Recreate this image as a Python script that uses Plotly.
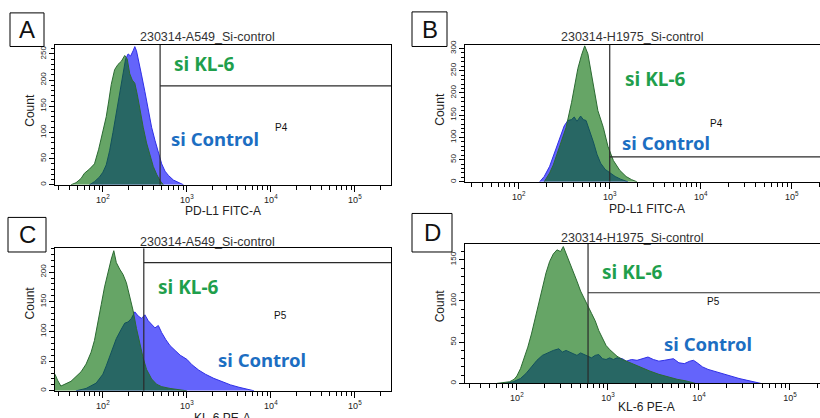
import plotly.graph_objects as go

W, H = 820, 418

# ---------------- data (x as log10 fluorescence intensity, y as counts) ----------------
# Panel A: PD-L1 FITC-A, A549
a_kl6_log = [1.62, 1.68, 1.74, 1.78, 1.84, 1.90, 1.95, 2.00, 2.04, 2.07, 2.10, 2.14, 2.18, 2.22, 2.26,
             2.29, 2.32, 2.35, 2.38, 2.41, 2.44, 2.48, 2.52, 2.56, 2.60, 2.64, 2.68, 2.72]
a_kl6_cnt = [0, 4, 12, 22, 30, 40, 68, 103, 130, 160, 192, 220, 230, 236, 247,
             240, 212, 200, 194, 172, 142, 110, 80, 55, 35, 20, 8, 0]
a_ctl_log = [1.84, 1.90, 1.96, 2.00, 2.04, 2.08, 2.12, 2.16, 2.20, 2.24, 2.27, 2.30, 2.33, 2.36, 2.38,
             2.40, 2.43, 2.46, 2.50, 2.54, 2.58, 2.62, 2.66, 2.70, 2.74, 2.78, 2.84, 2.90, 2.96]
a_ctl_cnt = [0, 6, 15, 24, 38, 65, 100, 138, 178, 212, 240, 250, 246, 256, 264,
             256, 235, 210, 178, 145, 110, 85, 60, 40, 26, 18, 9, 4, 0]

# Panel B: PD-L1 FITC-A, H1975
b_kl6_log = [2.28, 2.34, 2.38, 2.45, 2.52, 2.58, 2.62, 2.65, 2.69, 2.725, 2.76, 2.80, 2.84, 2.87,
             2.93, 2.98, 3.04, 3.11, 3.18, 3.24, 3.30]
b_kl6_cnt = [0, 20, 38, 78, 122, 178, 220, 255, 285, 306, 288, 242, 196, 160,
             122, 80, 48, 26, 12, 5, 0]
b_ctl_log = [2.23, 2.28, 2.34, 2.40, 2.45, 2.50, 2.54, 2.58, 2.61, 2.64, 2.68, 2.71, 2.74, 2.78,
             2.82, 2.86, 2.90, 2.95, 3.00, 3.06, 3.12, 3.20]
b_ctl_cnt = [0, 12, 35, 70, 100, 126, 138, 140, 146, 136, 148, 140, 138, 115,
             90, 62, 42, 28, 20, 12, 6, 0]

# Panel C: KL-6 PE-A, A549
c_kl6_log = [1.43, 1.46, 1.50, 1.56, 1.62, 1.68, 1.74, 1.80, 1.86, 1.90, 1.94, 1.98, 2.02, 2.06, 2.10,
             2.13, 2.16, 2.20, 2.24, 2.28, 2.32, 2.36, 2.40, 2.44, 2.48, 2.52, 2.58, 2.64, 2.70,
             2.80, 2.90, 3.00]
c_kl6_cnt = [28, 18, 8, 12, 16, 24, 32, 45, 65, 85, 112, 145, 175, 200, 222,
             236, 216, 205, 196, 182, 160, 135, 105, 78, 55, 36, 20, 11, 7,
             4, 2, 0]
c_ctl_log = [1.68, 1.80, 1.92, 2.00, 2.04, 2.10, 2.16, 2.22, 2.26, 2.30, 2.34, 2.38, 2.42, 2.46, 2.50,
             2.54, 2.58, 2.62, 2.66, 2.70, 2.75, 2.80, 2.86, 2.92, 3.00, 3.06, 3.14, 3.22, 3.32,
             3.42, 3.52, 3.62, 3.72, 3.80]
c_ctl_cnt = [0, 4, 13, 28, 42, 65, 88, 104, 114, 116, 122, 133, 126, 122, 128,
             118, 112, 106, 110, 98, 86, 76, 68, 60, 53, 44, 35, 28, 21,
             15, 10, 6, 3, 0]

# Panel D: KL-6 PE-A, H1975
d_kl6_log = [1.78, 1.86, 1.92, 1.97, 2.00, 2.04, 2.08, 2.12, 2.16, 2.20, 2.24, 2.28, 2.32, 2.36, 2.40,
             2.44, 2.48, 2.51, 2.54, 2.58, 2.62, 2.66, 2.70, 2.74, 2.78, 2.82, 2.86, 2.90, 2.94,
             2.98, 3.02, 3.06, 3.10, 3.16, 3.22, 3.30, 3.38, 3.46, 3.56, 3.66, 3.76, 3.86, 3.96]
d_kl6_cnt = [0, 1, 2, 5, 9, 18, 30, 44, 60, 78, 98, 116, 134, 148, 157,
             162, 160, 166, 158, 146, 136, 124, 112, 102, 94, 85, 76, 64, 54,
             46, 41, 37, 33, 29, 26, 22, 19, 15, 11, 8, 5, 3, 0]
d_ctl_log = [1.86, 1.96, 2.04, 2.10, 2.16, 2.22, 2.28, 2.34, 2.40, 2.46, 2.50, 2.54, 2.58, 2.62, 2.66,
             2.70, 2.74, 2.78, 2.82, 2.86, 2.90, 2.94, 2.98, 3.02, 3.06, 3.10, 3.16, 3.20, 3.26,
             3.32, 3.38, 3.44, 3.50, 3.56, 3.62, 3.68, 3.72, 3.78, 3.84, 3.90, 3.94, 3.98, 4.04,
             4.10, 4.16, 4.22, 4.28, 4.36, 4.44, 4.52, 4.60, 4.68]
d_ctl_cnt = [0, 2, 6, 12, 20, 28, 34, 37, 40, 42, 38, 40, 38, 36, 34,
             37, 35, 33, 31, 34, 35, 30, 29, 31, 29, 31, 30, 27, 29,
             28, 30, 32, 29, 27, 28, 29, 30, 25, 24, 27, 28, 25, 20,
             17, 15, 13, 11, 8, 6, 4, 2, 0]

# gates (P4 / P5): vertical position (intensity) and horizontal position (count)
gate_x = [480, 1000, 307, 605]
gate_y = [189, 56, 216, 110]
gate_names = ["P4", "P4", "P5", "P5"]

titles = ["230314-A549_Si-control", "230314-H1975_Si-control",
          "230314-A549_Si-control", "230314-H1975_Si-control"]
x_titles = ["PD-L1 FITC-A", "PD-L1 FITC-A", "KL-6 PE-A", "KL-6 PE-A"]
panel_letters = ["A", "B", "C", "D"]
y_tops = [268, 309, 240, 169]
y_major = [[0, 50, 100, 150, 200, 250], [0, 50, 100, 150, 200, 250, 300],
           [0, 50, 100, 150, 200], [0, 50, 100, 150]]
x_major = [100, 1000, 10000, 100000]
x_major_text = ["10<sup>2</sup>", "10<sup>3</sup>", "10<sup>4</sup>", "10<sup>5</sup>"]
x_minor = [m * 10 ** e for e in range(1, 6) for m in range(2, 10)]

series = [
    (a_kl6_log, a_kl6_cnt, a_ctl_log, a_ctl_cnt),
    (b_kl6_log, b_kl6_cnt, b_ctl_log, b_ctl_cnt),
    (c_kl6_log, c_kl6_cnt, c_ctl_log, c_ctl_cnt),
    (d_kl6_log, d_kl6_cnt, d_ctl_log, d_ctl_cnt),
]

# ---------------- layout geometry (pixels) ----------------
px_x = [(55, 391), (465, 820), (55, 391), (465, 820)]
px_y = [(41, 183), (41, 180), (247.3, 391.5), (243, 384)]
x_ranges = [[1.43, 5.43], [1.41, 5.31], [1.43, 5.43], [1.43, 5.33]]

GREEN_FILL = "rgba(0,105,0,0.6)"
GREEN_LINE = "#2b6a32"
BLUE_FILL = "#6464fb"
BLUE_LINE = "#2f2fe6"
GREEN_TXT = "#1f9f4c"
BLUE_TXT = "#1c6ec2"
FONT = "Liberation Sans, Arial, sans-serif"
LABEL_FONT = "Noto Sans, sans-serif"


def px(x):
    return x / W


def py(y):
    return 1 - y / H


fig = go.Figure()
layout = dict(width=W, height=H, margin=dict(l=0, r=0, t=0, b=0),
              paper_bgcolor="white", plot_bgcolor="white", showlegend=False)

annotations = []
shapes = []

for i in range(4):
    sfx = "" if i == 0 else str(i + 1)
    xa, ya = "x" + sfx, "y" + sfx
    kl_log, kl_cnt, ct_log, ct_cnt = series[i]

    fig.add_trace(go.Scatter(x=[10 ** v for v in ct_log], y=ct_cnt, xaxis=xa, yaxis=ya,
                             mode="lines", fill="tozeroy", fillcolor=BLUE_FILL,
                             line=dict(color=BLUE_LINE, width=1), hoverinfo="skip"))
    fig.add_trace(go.Scatter(x=[10 ** v for v in kl_log], y=kl_cnt, xaxis=xa, yaxis=ya,
                             mode="lines", fill="tozeroy", fillcolor=GREEN_FILL,
                             line=dict(color=GREEN_LINE, width=1), hoverinfo="skip"))
    # gate lines
    fig.add_trace(go.Scatter(x=[gate_x[i], gate_x[i]], y=[0, y_tops[i]], xaxis=xa, yaxis=ya,
                             mode="lines", line=dict(color="#2a2a2a", width=1.2), hoverinfo="skip"))
    fig.add_trace(go.Scatter(x=[gate_x[i], 10 ** 7], y=[gate_y[i], gate_y[i]], xaxis=xa, yaxis=ya,
                             mode="lines", line=dict(color="#2a2a2a", width=1.2), hoverinfo="skip"))

    full_box = i in (0, 2)
    layout["xaxis" + sfx] = dict(
        type="log", domain=[px(px_x[i][0]), px(px_x[i][1])], range=x_ranges[i], anchor=ya,
        showgrid=False, zeroline=False, showline=True, linecolor="black", linewidth=1, mirror=True,
        ticks="outside", ticklen=6, tickwidth=1, tickcolor="black",
        tickmode="array", tickvals=x_major, ticktext=x_major_text,
        tickfont=dict(family=FONT, size=9, color="#222"),
        minor=dict(tickmode="array", tickvals=x_minor, ticks="outside", ticklen=4,
                   tickcolor="black", showgrid=False),
    )
    layout["yaxis" + sfx] = dict(
        domain=[py(px_y[i][1]), py(px_y[i][0])], range=[0, y_tops[i]], anchor=xa,
        showgrid=False, zeroline=False, showline=True, linecolor="black", linewidth=1,
        mirror=full_box, ticks="outside", ticklen=5, tickwidth=1, tickcolor="black",
        tickmode="array", tickvals=y_major[i], tickangle=-90,
        tickfont=dict(family=FONT, size=8, color="#222"),
        minor=dict(dtick=10, ticks="outside", ticklen=3, tickcolor="black", showgrid=False),
    )

# ---------------- text ----------------
title_pos = [(207, 33), (632, 33), (207, 241), (632, 237)]
xtitle_pos = [(223, 209), (647, 207), (222, 419), (646, 408)]
count_pos = [(30, 107), (440, 107), (30, 302), (440, 306)]
gate_lbl_pos = [(281, 117), (725, 113), (280, 323), (722, 309)]
kl6_pos = [(204, 61), (655, 76), (188, 286), (632, 271)]
ctl_pos = [(215, 136), (666, 140), (262, 360), (708, 344)]
letter_box = [(10, 9, 44, 43), (412, 8, 447, 43), (8, 216, 46, 251), (412, 212, 452, 251)]

for i in range(4):
    annotations.append(dict(x=px(title_pos[i][0]), y=py(title_pos[i][1]), xref="paper", yref="paper",
                            text=titles[i], showarrow=False, xanchor="center", yanchor="middle",
                            font=dict(family=FONT, size=12.5, color="#333")))
    annotations.append(dict(x=px(xtitle_pos[i][0]), y=py(xtitle_pos[i][1]), xref="paper", yref="paper",
                            text=x_titles[i], showarrow=False, xanchor="center", yanchor="middle",
                            font=dict(family=FONT, size=12, color="#222")))
    annotations.append(dict(x=px(count_pos[i][0]), y=py(count_pos[i][1]), xref="paper", yref="paper",
                            text="Count", textangle=-90, showarrow=False, xanchor="center",
                            yanchor="middle", font=dict(family=FONT, size=12, color="#222")))
    annotations.append(dict(x=px(gate_lbl_pos[i][0]), y=py(gate_lbl_pos[i][1]), xref="paper",
                            yref="paper", text=gate_names[i], showarrow=False,
                            font=dict(family=FONT, size=10, color="#111")))
    annotations.append(dict(x=px(kl6_pos[i][0]), y=py(kl6_pos[i][1]), xref="paper", yref="paper",
                            text="si KL-6", showarrow=False, xanchor="center", yanchor="middle",
                            font=dict(family=LABEL_FONT, size=19, color=GREEN_TXT, weight="bold")))
    annotations.append(dict(x=px(ctl_pos[i][0]), y=py(ctl_pos[i][1]), xref="paper", yref="paper",
                            text="si Control", showarrow=False, xanchor="center", yanchor="middle",
                            font=dict(family=LABEL_FONT, size=18.5, color=BLUE_TXT, weight="bold")))
    x0, y0, x1, y1 = letter_box[i]
    shapes.append(dict(type="rect", xref="paper", yref="paper", x0=px(x0), x1=px(x1),
                       y0=py(y1), y1=py(y0), line=dict(color="black", width=1), fillcolor="white"))
    annotations.append(dict(x=px((x0 + x1) / 2), y=py((y0 + y1) / 2), xref="paper", yref="paper",
                            text=panel_letters[i], showarrow=False, xanchor="center",
                            yanchor="middle", font=dict(family=FONT, size=24, color="#111")))

layout["annotations"] = annotations
layout["shapes"] = shapes
fig.update_layout(**layout)
fig.write_html("out.html",
               config={"displayModeBar": False, "displaylogo": False},
               post_script="document.body.style.margin='0';document.body.style.overflow='hidden';")
